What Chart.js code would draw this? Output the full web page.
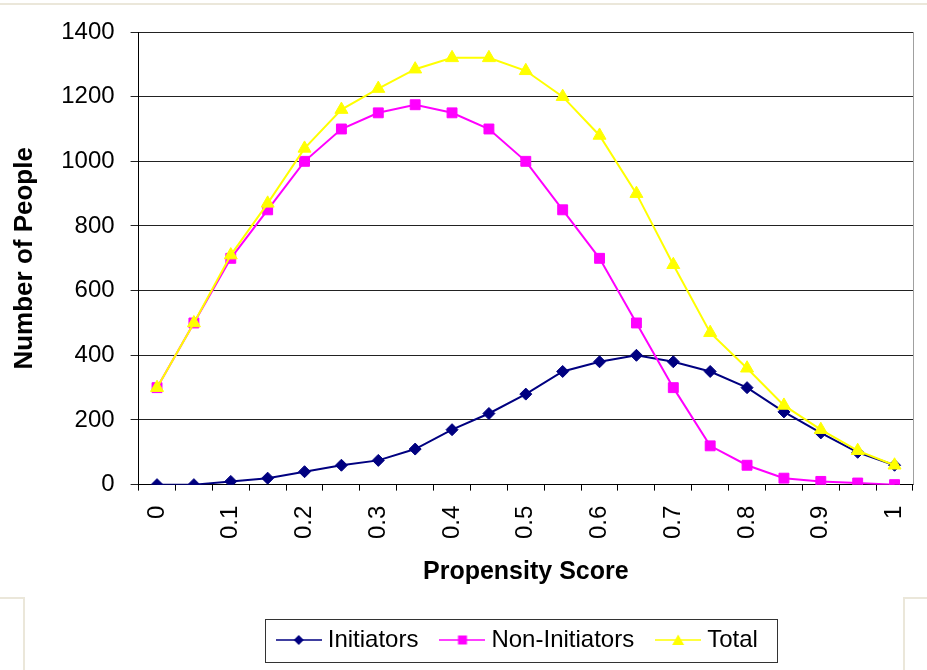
<!DOCTYPE html>
<html>
<head>
<meta charset="utf-8">
<title>Propensity Score Distribution</title>
<script src="https://cdn.jsdelivr.net/npm/chart.js@4.4.0/dist/chart.umd.min.js"></script>
<style>
  html, body { margin: 0; padding: 0; background: #ffffff; }
  #wrap { position: relative; width: 927px; height: 670px; }
  #chart { position: absolute; left: 0; top: 0; }
  .frame { position: absolute; border-color: #ebe7da; border-style: solid; border-width: 0; }
  #topRule { left: 0; top: 3px; width: 927px; height: 0; border-top-width: 2px; }
  #cornerL { left: 0; top: 597px; width: 23px; height: 80px; border-top-width: 2px; border-right-width: 2px; }
  #cornerR { left: 903px; top: 597px; width: 30px; height: 80px; border-top-width: 2px; border-left-width: 2px; }
</style>
</head>
<body>
<div id="wrap">
  <div class="frame" id="topRule"></div>
  <div class="frame" id="cornerL"></div>
  <div class="frame" id="cornerR"></div>
  <canvas id="chart" width="927" height="670"></canvas>
</div>
<script>
// Propensity score categories (0 to 1 in steps of 0.05)
const scoreLabels = ['0', '0.05', '0.1', '0.15', '0.2', '0.25', '0.3', '0.35', '0.4', '0.45', '0.5',
                     '0.55', '0.6', '0.65', '0.7', '0.75', '0.8', '0.85', '0.9', '0.95', '1'];

// Number of people per score band
const initiators    = [0, 0, 10, 20, 40, 60, 75, 110, 170, 220, 280, 350, 380, 400, 380, 350, 300, 225, 160, 100, 60];
const nonInitiators = [300, 500, 700, 850, 1000, 1100, 1150, 1175, 1150, 1100, 1000, 850, 700, 500, 300, 120, 60, 20, 10, 5, 0];
const total         = [300, 500, 710, 870, 1040, 1160, 1225, 1285, 1320, 1320, 1280, 1200, 1080, 900, 680, 470, 360, 245, 170, 105, 60];

const seriesNames = ['Initiators', 'Non-Initiators', 'Total'];

const NAVY = '#000080';
const MAGENTA = '#ff00ff';
const YELLOW = '#ffff00';
const FONT = "'Liberation Sans', Arial, sans-serif";

// Legend sample: a short line with the series marker in the middle
function legendSample(color, shape) {
  const c = document.createElement('canvas');
  c.width = 46; c.height = 16;
  const g = c.getContext('2d');
  g.strokeStyle = color; g.lineWidth = 1.5;
  g.beginPath(); g.moveTo(0, 8); g.lineTo(46, 8); g.stroke();
  g.fillStyle = color;
  g.beginPath();
  if (shape === 'diamond') {
    g.moveTo(23, 3); g.lineTo(28, 8); g.lineTo(23, 13); g.lineTo(18, 8);
  } else if (shape === 'square') {
    g.rect(18.5, 3.5, 9, 9);
  } else {
    g.moveTo(23, 2.5); g.lineTo(29, 13); g.lineTo(17, 13);
  }
  g.closePath(); g.fill();
  return c;
}
const samples = [legendSample(NAVY, 'diamond'), legendSample(MAGENTA, 'square'), legendSample(YELLOW, 'triangle')];

// Plot frame on the right side plus the legend border
const framePlugin = {
  id: 'frameAndLegend',
  afterLayout(chart) {
    const lg = chart.legend;
    if (!lg) return;
    const area = chart.chartArea;
    const dx = (area.left + area.right) / 2 - 6 - (lg.left + lg.right) / 2;
    lg.left += dx; lg.right += dx;
  },
  beforeDatasetsDraw(chart) {
    const {ctx, chartArea: a} = chart;
    ctx.save();
    ctx.strokeStyle = '#a0a0a0';
    ctx.lineWidth = 1;
    ctx.beginPath();
    ctx.moveTo(Math.round(a.right) + 0.5, a.top);
    ctx.lineTo(Math.round(a.right) + 0.5, a.bottom);
    ctx.stroke();
    ctx.restore();
  },
  afterDraw(chart) {
    const lg = chart.legend;
    const hb = lg && lg.legendHitBoxes;
    if (!hb || !hb.length) return;
    const first = hb[0], last = hb[hb.length - 1];
    const cy = first.top + first.height / 2;
    const x0 = Math.round(first.left - 17) + 0.5;
    const x1 = Math.round(last.left + last.width + 19) + 0.5;
    const y0 = Math.round(cy - 21) + 0.5;
    const y1 = Math.round(cy + 22) + 0.5;
    const ctx = chart.ctx;
    ctx.save();
    ctx.strokeStyle = '#333333';
    ctx.lineWidth = 1;
    ctx.strokeRect(x0, y0, x1 - x0, y1 - y0);
    ctx.restore();
  }
};

const datasets = [
  {
    label: seriesNames[0], data: initiators, order: 2,
    borderColor: NAVY, backgroundColor: NAVY, borderWidth: 2,
    pointStyle: 'rectRot', pointRadius: 6, pointBorderColor: NAVY, pointBackgroundColor: NAVY, pointBorderWidth: 1
  },
  {
    label: seriesNames[1], data: nonInitiators, order: 1,
    borderColor: MAGENTA, backgroundColor: MAGENTA, borderWidth: 2,
    pointStyle: 'rect', pointRadius: 7, pointBorderColor: MAGENTA, pointBackgroundColor: MAGENTA, pointBorderWidth: 1
  },
  {
    label: seriesNames[2], data: total, order: 0,
    borderColor: YELLOW, backgroundColor: YELLOW, borderWidth: 2,
    pointStyle: 'triangle', pointRadius: 7.5, pointBorderColor: YELLOW, pointBackgroundColor: YELLOW, pointBorderWidth: 1
  }
];

new Chart(document.getElementById('chart'), {
  type: 'line',
  data: { labels: scoreLabels, datasets },
  options: {
    responsive: false,
    animation: false,
    layout: { padding: { left: 4, right: 2, top: 32, bottom: 8 } },
    plugins: {
      tooltip: { enabled: false },
      legend: {
        position: 'bottom',
        labels: {
          usePointStyle: true,
          pointStyleWidth: 34,
          padding: 27,
          color: '#000000',
          font: { family: FONT, size: 24 },
          generateLabels(chart) {
            return chart.data.datasets.map((ds, i) => ({
              text: ds.label,
              datasetIndex: i,
              pointStyle: samples[i],
              fillStyle: ds.borderColor,
              strokeStyle: ds.borderColor,
              lineWidth: 0,
              fontColor: '#000000',
              hidden: false
            }));
          }
        }
      }
    },
    scales: {
      x: {
        type: 'category',
        offset: true,
        afterFit(scale) { scale.paddingRight = 14; },
        grid: { offset: true, drawOnChartArea: false, drawTicks: true, tickLength: 6, color: '#000000' },
        border: { display: true, color: '#000000', width: 1 },
        ticks: {
          autoSkip: false,
          minRotation: 90,
          maxRotation: 90,
          padding: 15,
          color: '#000000',
          font: { family: FONT, size: 24 },
          callback(value, index) {
            return index % 2 === 0 ? this.getLabelForValue(value) : '';
          }
        },
        title: {
          display: true,
          text: 'Propensity Score',
          color: '#000000',
          font: { family: FONT, size: 25, weight: 'bold' },
          padding: { top: 3, bottom: 14 }
        }
      },
      y: {
        min: 0,
        max: 1400,
        grid: { color: '#222222', lineWidth: 1, drawTicks: true, tickLength: 8 },
        border: { display: true, color: '#000000', width: 1 },
        ticks: {
          stepSize: 200,
          padding: 16,
          color: '#000000',
          font: { family: FONT, size: 24 },
          callback(value) { return String(value); }
        },
        title: {
          display: true,
          text: 'Number of People',
          color: '#000000',
          font: { family: FONT, size: 26, weight: 'bold' },
          padding: { top: 5, bottom: 5 }
        }
      }
    }
  },
  plugins: [framePlugin]
});
</script>
</body>
</html>
